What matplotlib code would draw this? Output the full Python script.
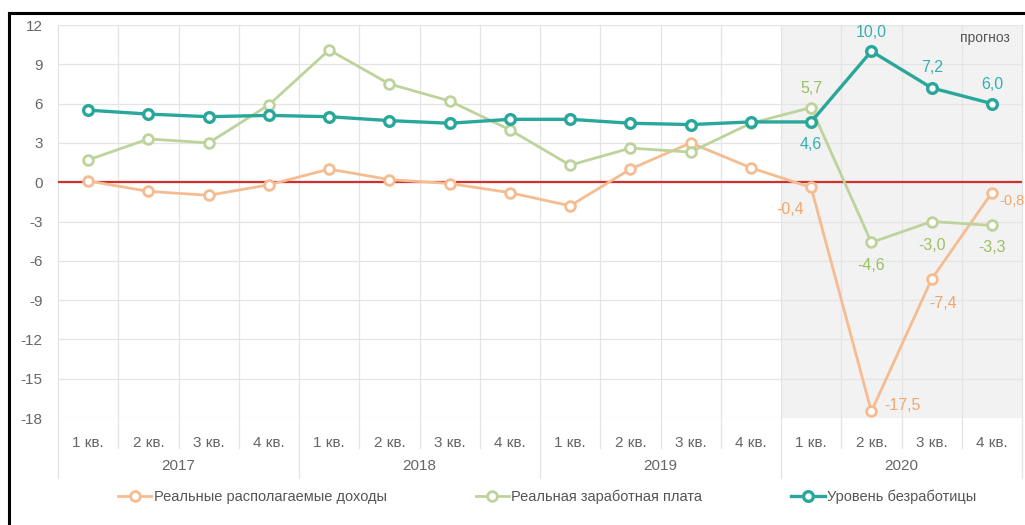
import numpy as np
import matplotlib.pyplot as plt
from matplotlib.lines import Line2D

plt.rcParams['font.family'] = ['Liberation Sans', 'DejaVu Sans']

# данные
kvartaly = ['1 кв.', '2 кв.', '3 кв.', '4 кв.'] * 4
gody = ['2017', '2018', '2019', '2020']
dohody = [0.1, -0.7, -1.0, -0.2, 1.0, 0.2, -0.1, -0.8, -1.8, 1.0, 3.0, 1.1, -0.4, -17.5, -7.4, -0.8]
zarplata = [1.7, 3.3, 3.0, 5.9, 10.1, 7.5, 6.2, 4.0, 1.3, 2.6, 2.3, 4.5, 5.7, -4.6, -3.0, -3.3]
bezrabotica = [5.5, 5.2, 5.0, 5.1, 5.0, 4.7, 4.5, 4.8, 4.8, 4.5, 4.4, 4.6, 4.6, 10.0, 7.2, 6.0]
y_ticks = [12, 9, 6, 3, 0, -3, -6, -9, -12, -15, -18]

c_dohod = '#F6BC91'
c_zarp = '#BDD39B'
c_bezr = '#2AA79B'
c_dohod_t = '#F2A66A'
c_zarp_t = '#9CBF63'
c_bezr_t = '#35AFB0'

x = np.arange(len(kvartaly))

fig = plt.figure(figsize=(10.25, 5.25), dpi=100)
ax = fig.add_axes([58 / 1025, 1 - 418 / 525, 964 / 1025, 393 / 525])

# прогноз - серый фон
ax.axvspan(11.5, 15.5, color='#f2f2f2', zorder=0, lw=0)

# сетка
for yt in y_ticks:
    ax.axhline(yt, color='#e4e4e4', lw=0.9, zorder=1)
tr = ax.get_xaxis_transform()
for b in np.arange(-0.5, 16, 1):
    dno = -0.153 if (b + 0.5) % 4 == 0 else -0.076
    ax.plot([b, b], [dno, 1], color='#e4e4e4', lw=0.9, transform=tr, clip_on=False, zorder=1)

ax.axhline(0, color='#D0312D', lw=1.6, zorder=2)

ax.plot(x, dohody, color=c_dohod, lw=2.0, marker='o', ms=7, mfc='white', mec=c_dohod, mew=2.0, zorder=3)
ax.plot(x, zarplata, color=c_zarp, lw=2.0, marker='o', ms=7, mfc='white', mec=c_zarp, mew=2.0, zorder=3)
ax.plot(x, bezrabotica, color=c_bezr, lw=2.4, marker='o', ms=7, mfc='white', mec=c_bezr, mew=2.4, zorder=4)

# подписи значений (только 2020)
def fmt(v):
    return f'{v:.1f}'.replace('.', ',')

sdvigi_bezr = [(0, -23), (0, 19), (0, 20), (0, 19)]
sdvigi_zarp = [(0, 19), (0, -23), (0, -24), (0, -22)]
sdvigi_dohod = [(-21, -22), (31, 6), (11, -24), (0, 0)]
for k in range(4):
    i = 12 + k
    ax.annotate(fmt(bezrabotica[i]), (x[i], bezrabotica[i]), xytext=sdvigi_bezr[k],
                textcoords='offset pixels', ha='center', va='center', color=c_bezr_t, fontsize=11.5)
    ax.annotate(fmt(zarplata[i]), (x[i], zarplata[i]), xytext=sdvigi_zarp[k],
                textcoords='offset pixels', ha='center', va='center', color=c_zarp_t, fontsize=11.5)
    if k < 3:
        ax.annotate(fmt(dohody[i]), (x[i], dohody[i]), xytext=sdvigi_dohod[k],
                    textcoords='offset pixels', ha='center', va='center', color=c_dohod_t, fontsize=11.5)
# последняя подпись у самого края
ax.annotate(fmt(dohody[15]), (x[15], dohody[15]), xytext=(7, -8), textcoords='offset pixels',
            ha='left', va='center', color=c_dohod_t, fontsize=10.5, annotation_clip=False)

ax.text(15.3, 11.0, 'прогноз', ha='right', va='center', color='#555555', fontsize=10)

ax.set_xlim(-0.5, 15.5)
ax.set_ylim(-18, 12)
ax.set_yticks(y_ticks)
ax.set_yticklabels([str(v) for v in y_ticks])
ax.set_xticks(x)
ax.set_xticklabels(kvartaly)
ax.tick_params(axis='both', length=0, colors='#666666', labelsize=11)
ax.tick_params(axis='x', pad=13)
ax.tick_params(axis='y', pad=11)
for s in ax.spines.values():
    s.set_visible(False)

for j, g in enumerate(gody):
    ax.text(4 * j + 1.5, -0.122, g, transform=tr, ha='center', va='center', color='#666666', fontsize=11)

# легенда
handles = [
    Line2D([], [], color=c_dohod, lw=2.0, marker='o', ms=7, mfc='white', mec=c_dohod, mew=2.0),
    Line2D([], [], color=c_zarp, lw=2.0, marker='o', ms=7, mfc='white', mec=c_zarp, mew=2.0),
    Line2D([], [], color=c_bezr, lw=2.4, marker='o', ms=7, mfc='white', mec=c_bezr, mew=2.4),
]
names = ['Реальные располагаемые доходы', 'Реальная заработная плата', 'Уровень безработицы']
leg = fig.legend(handles, names, loc='center', bbox_to_anchor=(547 / 1025, 1 - 497 / 525), ncol=3,
                 frameon=False, fontsize=10.5, handlelength=2.3, handletextpad=0.15, columnspacing=6.1)
for t in leg.get_texts():
    t.set_color('#555555')

# рамка
fig.add_artist(Line2D([9 / 1025, 9 / 1025], [0, 1 - 13 / 525], color='black', lw=2.2))
fig.add_artist(Line2D([9 / 1025, 1], [1 - 13 / 525, 1 - 13 / 525], color='black', lw=2.2))

fig.savefig('out.png', dpi=100)
